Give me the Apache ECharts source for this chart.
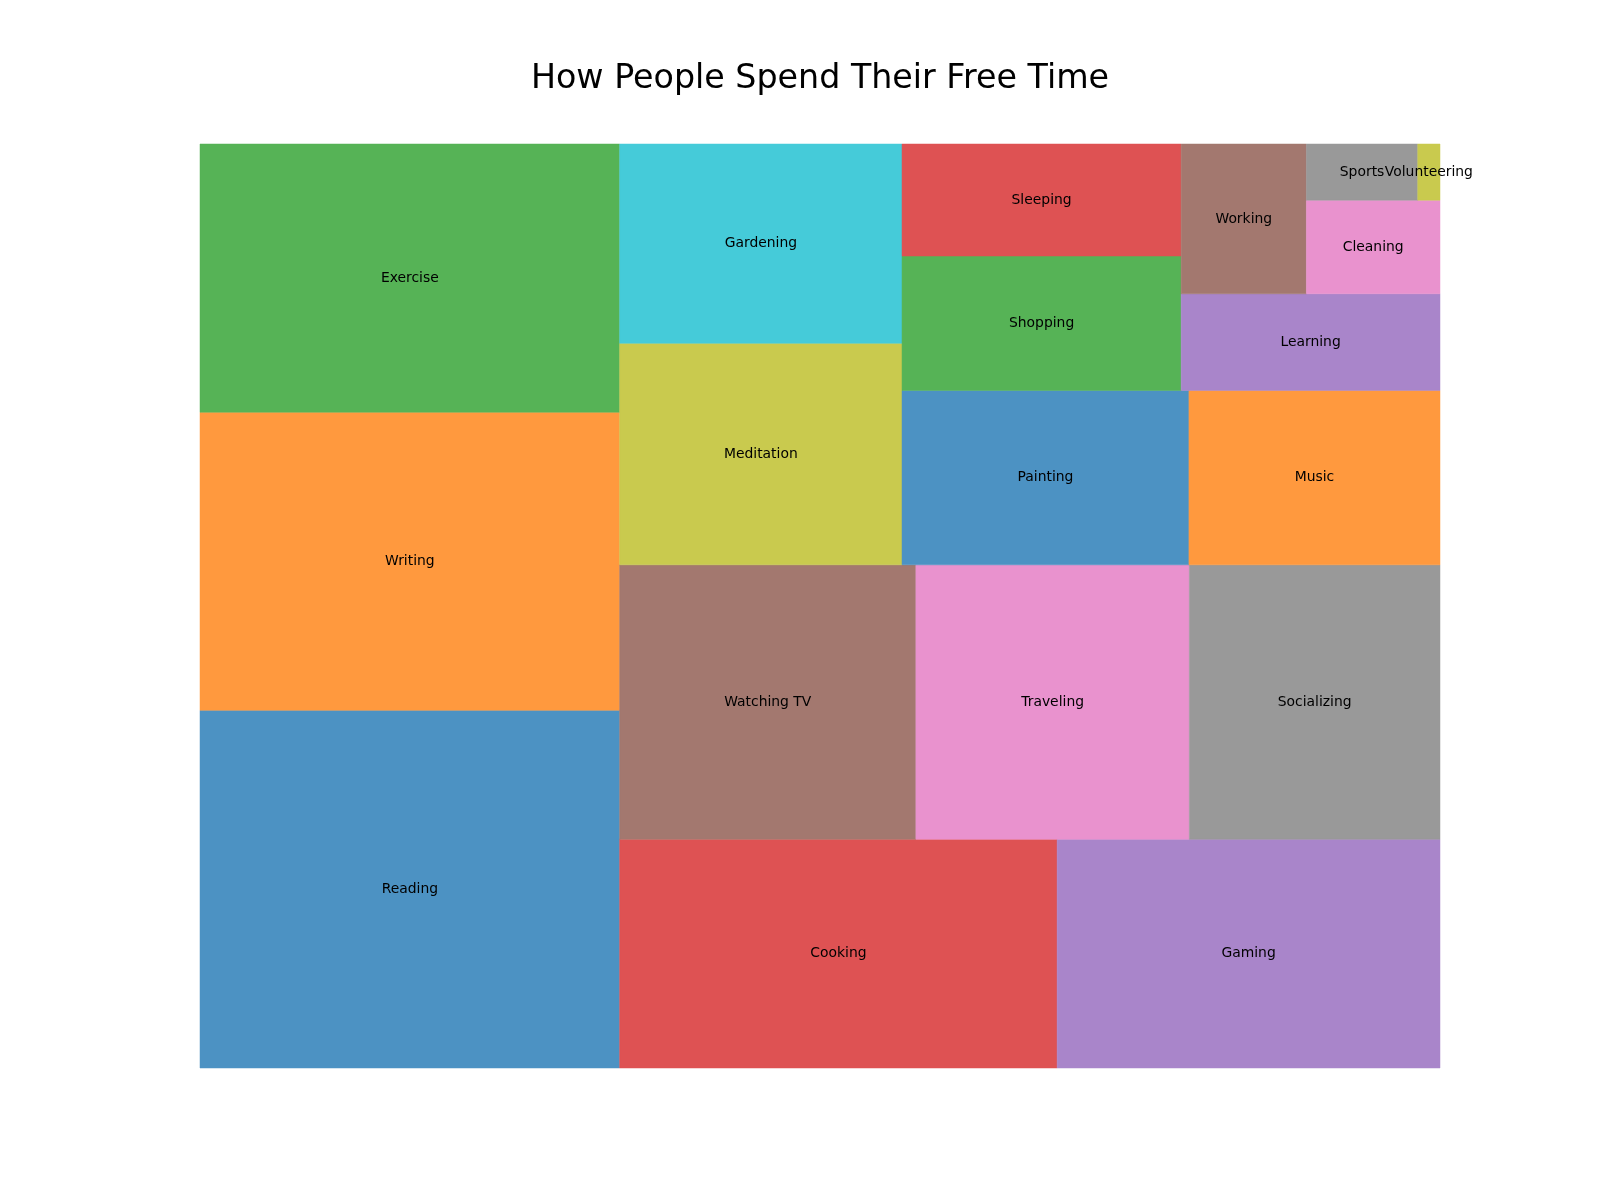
<!DOCTYPE html>
<html>
<head>
<meta charset="utf-8">
<script src="https://cdn.jsdelivr.net/npm/echarts@6/dist/echarts.min.js"></script>
<style>html,body{margin:0;padding:0;background:#fff;}#c{width:1600px;height:1200px;}</style>
</head>
<body>
<div id="c"></div>
<script>
const categories = ['Reading','Writing','Exercise','Cooking','Gaming','Watching TV','Traveling','Socializing','Meditation','Gardening','Painting','Music','Shopping','Sleeping','Learning','Working','Cleaning','Sports','Volunteering'];
const values = [120,100,90,80,70,65,60,55,50,45,40,35,30,25,20,15,10,5,1];
const palette = ['#1f77b4','#ff7f0e','#2ca02c','#d62728','#9467bd','#8c564b','#e377c2','#7f7f7f','#bcbd22','#17becf'];
const titleText = 'How People Spend Their Free Time';

// squarify algorithm (same as Python squarify package)
function normalize(sizes, dx, dy){const t=sizes.reduce((a,b)=>a+b,0);return sizes.map(s=>s*dx*dy/t);}
function layoutrow(s,x,y,dx,dy){const a=s.reduce((p,q)=>p+q,0);const w=a/dy;const r=[];for(const v of s){r.push({x:x,y:y,dx:w,dy:v/w});y+=v/w;}return r;}
function layoutcol(s,x,y,dx,dy){const a=s.reduce((p,q)=>p+q,0);const h=a/dx;const r=[];for(const v of s){r.push({x:x,y:y,dx:v/h,dy:h});x+=v/h;}return r;}
function layout(s,x,y,dx,dy){return dx>=dy?layoutrow(s,x,y,dx,dy):layoutcol(s,x,y,dx,dy);}
function leftover(s,x,y,dx,dy){const a=s.reduce((p,q)=>p+q,0);if(dx>=dy){const w=a/dy;return [x+w,y,dx-w,dy];}const h=a/dx;return [x,y+h,dx,dy-h];}
function worst(s,x,y,dx,dy){return Math.max(...layout(s,x,y,dx,dy).map(r=>Math.max(r.dx/r.dy,r.dy/r.dx)));}
function squarify(s,x,y,dx,dy){
  if(s.length===0)return [];
  if(s.length===1)return layout(s,x,y,dx,dy);
  let i=1;
  while(i<s.length && worst(s.slice(0,i),x,y,dx,dy)>=worst(s.slice(0,i+1),x,y,dx,dy)) i++;
  const cur=s.slice(0,i), rem=s.slice(i);
  const lo=leftover(cur,x,y,dx,dy);
  return layout(cur,x,y,dx,dy).concat(squarify(rem,lo[0],lo[1],lo[2],lo[3]));
}
const rects = squarify(normalize(values,100,100),0,0,100,100);
const data = rects.map((r,i)=>[r.x,r.y,r.x+r.dx,r.y+r.dy,i]);

function blend(hex,a){
  const n=parseInt(hex.slice(1),16);
  const c=[(n>>16)&255,(n>>8)&255,n&255].map(v=>Math.round(v*a+255*(1-a)));
  return 'rgb('+c.join(',')+')';
}

const chart = echarts.init(document.getElementById('c'));
chart.setOption({
  animation:false,
  backgroundColor:'#fff',
  graphic:[{type:'text',x:820,y:79,style:{text:titleText,align:'center',verticalAlign:'middle',
    font:'33.3px "DejaVu Sans"',fill:'#000'}}],
  grid:{left:200,right:160,top:144,bottom:132},
  xAxis:{type:'value',min:0,max:100,show:false},
  yAxis:{type:'value',min:0,max:100,show:false},
  series:[{
    type:'custom',
    data:data,
    renderItem:function(params,api){
      const p0=api.coord([api.value(0),api.value(1)]);
      const p1=api.coord([api.value(2),api.value(3)]);
      const idx=api.value(4);
      const x=Math.min(p0[0],p1[0]), y=Math.min(p0[1],p1[1]);
      const w=Math.abs(p1[0]-p0[0]), h=Math.abs(p1[1]-p0[1]);
      const fill=blend(palette[idx%10],0.8);
      return {type:'group',children:[
        {type:'rect',shape:{x:x,y:y,width:w,height:h},
          style:{fill:fill,stroke:fill,lineWidth:0.5}},
        {type:'text',z2:10,style:{text:categories[idx],x:x+w/2,y:y+h/2,align:'center',verticalAlign:'middle',
          font:'13.9px "DejaVu Sans"',fill:'#000'}}
      ]};
    }
  }]
});
</script>
</body>
</html>
